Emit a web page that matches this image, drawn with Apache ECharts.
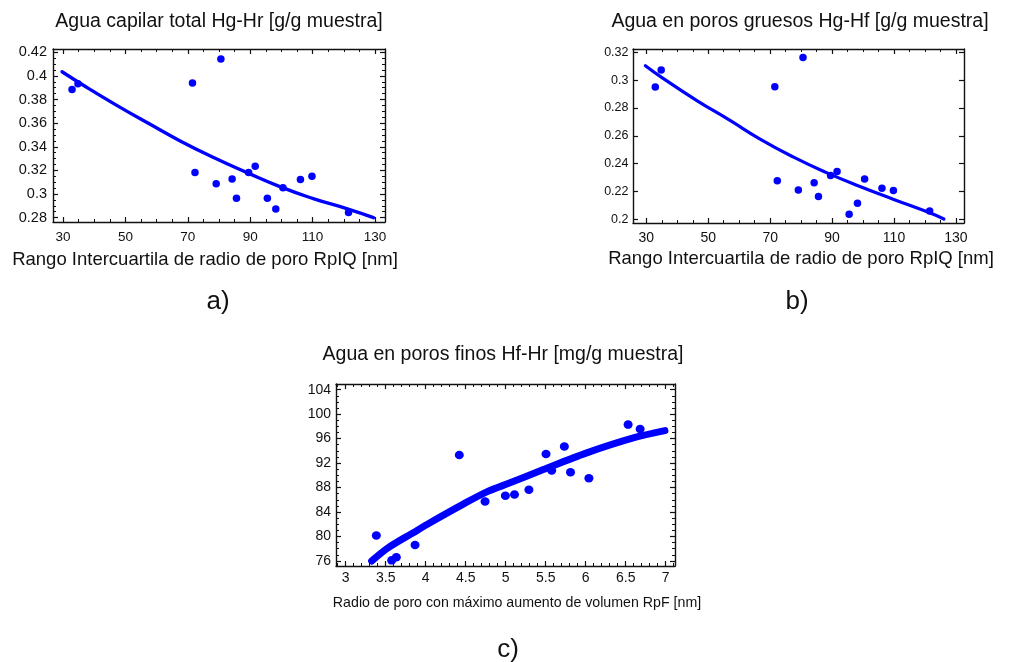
<!DOCTYPE html>
<html>
<head>
<meta charset="utf-8">
<script src="https://cdn.jsdelivr.net/npm/echarts@6/dist/echarts.min.js"></script>
<style>
html, body { margin: 0; padding: 0; background: #fff; }
#chart { width: 1013px; height: 662px; }
</style>
</head>
<body>
<div id="chart"></div>
<script>
// RpIQ de cada muestra (paneles a y b)
const rpiq = [32.9, 34.8, 71.5, 80.6, 72.3, 79.1, 84.2, 85.6, 89.5, 91.6, 95.5, 98.2, 100.5, 106.1, 109.8, 121.5]
// a) agua capilar total Hg-Hr
const hgHr = [0.3886, 0.3933, 0.394, 0.4143, 0.3182, 0.3086, 0.3128, 0.2964, 0.3182, 0.3236, 0.2964, 0.2874, 0.3052, 0.3122, 0.3151, 0.2843]
// b) agua en poros gruesos Hg-Hf
const hgHf = [0.2950, 0.3073, 0.2953, 0.3162, 0.2276, 0.2211, 0.2262, 0.2163, 0.2314, 0.2343, 0.2036, 0.2115, 0.2290, 0.2223, 0.2206, 0.2060]
// c) agua en poros finos Hf-Hr vs RpF
const rpf = [3.383, 3.575, 3.633, 3.867, 4.42, 4.742, 4.996, 5.11, 5.29, 5.504, 5.575, 5.733, 5.81, 6.04, 6.53, 6.68]
const hfHr = [80.18, 76.1, 76.6, 78.6, 93.34, 85.73, 86.65, 86.87, 87.63, 93.5, 90.79, 94.7, 90.51, 89.54, 98.29, 97.58]

// curvas de ajuste
const fitAx = [29.7, 36.4, 47.1, 57.8, 67.4, 78.1, 88.8, 99.5, 110.2, 120.9, 129.5]
const fitAy = [0.4035, 0.3923, 0.3753, 0.3592, 0.3452, 0.3311, 0.3183, 0.3062, 0.2961, 0.2876, 0.2800]
const fitBx = [29.7, 35.4, 46.2, 56.9, 66.6, 77.4, 88.2, 99.0, 109.7, 120.5, 126.1]
const fitBy = [0.3104, 0.3013, 0.2855, 0.2712, 0.2578, 0.2448, 0.2335, 0.2235, 0.2144, 0.2055, 0.2002]
const fitCx = [3.325, 3.533, 3.845, 4.054, 4.47, 4.763, 5.054, 5.47, 6.013, 6.595, 6.99]
const fitCy = [76.0, 78.18, 80.63, 82.26, 85.3, 87.3, 88.78, 90.95, 93.68, 96.12, 97.31]

// marcas de los ejes
const ticksAx = [30, 50, 70, 90, 110, 130]
const ticksAy = [0.28, 0.3, 0.32, 0.34, 0.36, 0.38, 0.4, 0.42]
const ticksBy = [0.2, 0.22, 0.24, 0.26, 0.28, 0.3, 0.32]
const ticksCx = [3, 3.5, 4, 4.5, 5, 5.5, 6, 6.5, 7]
const ticksCy = [76, 80, 84, 88, 92, 96, 100, 104]

const FONT = 'Liberation Sans'
const BLUE = '#0000ff'
const INK = '#111'

const pairs = (xs, ys) => xs.map((x, i) => [x, ys[i]])

// marcas menores: multiplos de step dentro del rango que no son mayores
const minorTicks = (major, step, lo, hi) => {
  const out = []
  for (let k = Math.ceil(lo / step - 1e-9); k * step <= hi + 1e-9; k++) {
    const v = +(k * step).toFixed(6)
    if (!major.some(m => Math.abs(m - v) < step / 10)) out.push(v)
  }
  return out
}

const xAxes = []
const yAxes = []

// crea ejes en ambos lados (marcas hacia dentro, como un marco)
const addAxes = (list, dim, gridIndex, min, max, major, minor, label) => {
  const first = list.length
  const sides = dim === 'x' ? ['bottom', 'top'] : ['left', 'right']
  sides.forEach((pos, i) => {
    list.push({
      type: 'value', gridIndex, position: pos, min, max,
      axisLine: { show: true, onZero: false, lineStyle: { color: INK, width: 1.4 } },
      axisTick: { show: true, inside: true, length: 5, customValues: major, lineStyle: { color: INK, width: 1.2 } },
      axisLabel: {
        show: i === 0, customValues: major, color: INK, fontFamily: FONT,
        fontSize: label.size, margin: label.margin
      },
      splitLine: { show: false }
    })
    if (minor.length) {
      list.push({
        type: 'value', gridIndex, position: pos, min, max,
        axisLine: { show: false },
        axisTick: { show: true, inside: true, length: 3, customValues: minor, lineStyle: { color: INK, width: 1 } },
        axisLabel: { show: false },
        splitLine: { show: false }
      })
    }
  })
  return first
}

const axA = addAxes(xAxes, 'x', 0, 26.8, 133.2, ticksAx, minorTicks(ticksAx, 5, 26.8, 133.2), { size: 13.5, margin: 8 })
const ayA = addAxes(yAxes, 'y', 0, 0.2763, 0.4228, ticksAy, minorTicks(ticksAy, 0.005, 0.2763, 0.4228), { size: 14.5, margin: 6 })
const axB = addAxes(xAxes, 'x', 1, 25.7, 132.6, ticksAx, minorTicks(ticksAx, 5, 25.7, 132.6), { size: 14, margin: 8 })
const ayB = addAxes(yAxes, 'y', 1, 0.1973, 0.3224, ticksBy, [], { size: 12.5, margin: 4.5 })
const axC = addAxes(xAxes, 'x', 2, 2.879, 7.116, ticksCx, minorTicks(ticksCx, 0.1, 2.879, 7.116), { size: 14, margin: 5 })
const ayC = addAxes(yAxes, 'y', 2, 75.18, 104.93, ticksCy, minorTicks(ticksCy, 1, 75.18, 104.93), { size: 14, margin: 5 })

const dots = (x, y, data, size) => ({
  type: 'scatter', xAxisIndex: x, yAxisIndex: y, data,
  symbol: 'circle', symbolSize: size, itemStyle: { color: BLUE, opacity: 1 }, z: 3
})
const fit = (x, y, data, width, smooth) => ({
  type: 'line', xAxisIndex: x, yAxisIndex: y, data, smooth,
  showSymbol: false, lineStyle: { color: BLUE, width, cap: 'round', join: 'round' }, z: 4
})

const label = (text, x, y, size) => ({
  type: 'text', x, y, silent: true,
  style: { text, fontFamily: FONT, fontSize: size, fill: INK, align: 'center', verticalAlign: 'middle' }
})

const chart = echarts.init(document.getElementById('chart'))
chart.setOption({
  animation: false,
  backgroundColor: '#fff',
  grid: [
    { left: 53, top: 49, width: 332, height: 173 },
    { left: 633, top: 49, width: 331, height: 174 },
    { left: 336, top: 384, width: 339, height: 182 }
  ],
  xAxis: xAxes,
  yAxis: yAxes,
  series: [
    fit(axA, ayA, pairs(fitAx, fitAy), 3.4, 0.5),
    dots(axA, ayA, pairs(rpiq, hgHr), 7.5),
    fit(axB, ayB, pairs(fitBx, fitBy), 3.2, 0.5),
    dots(axB, ayB, pairs(rpiq, hgHf), 7.5),
    fit(axC, ayC, pairs(fitCx, fitCy), 7, 0.3),
    dots(axC, ayC, pairs(rpf, hfHr), [9, 8.5])
  ],
  graphic: [
    label('Agua capilar total Hg-Hr [g/g muestra]', 219, 21.5, 19.5),
    label('Rango Intercuartila de radio de poro RpIQ [nm]', 205, 259.5, 18.5),
    label('a)', 218, 302, 26),
    label('Agua en poros gruesos Hg-Hf [g/g muestra]', 800, 21.5, 19.5),
    label('Rango Intercuartila de radio de poro RpIQ [nm]', 801, 259, 18.5),
    label('b)', 797, 302, 26),
    label('Agua en poros finos Hf-Hr [mg/g muestra]', 503, 355, 19.5),
    label('Radio de poro con máximo aumento de volumen RpF [nm]', 517, 603.5, 14.2),
    label('c)', 508, 650, 26)
  ]
})
</script>
</body>
</html>
